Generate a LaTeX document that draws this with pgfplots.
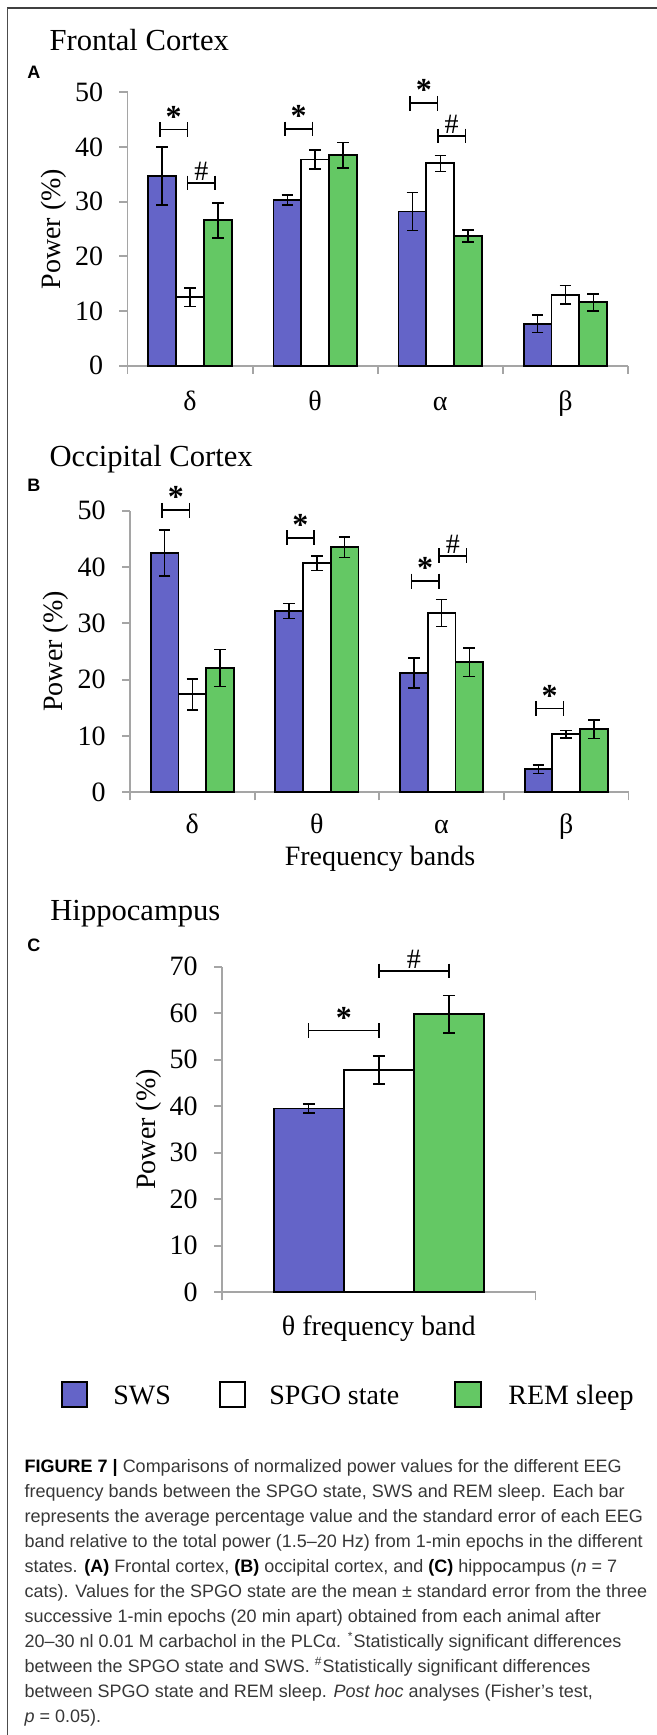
\documentclass[border=0pt]{standalone}
\usepackage{fontspec}
\setmainfont{Liberation Serif}
\newfontfamily\capfont{Liberation Sans}
\usepackage{pgfplots}
\usepackage{pgfplotstable}
\pgfplotsset{compat=1.18}

\definecolor{swsblue}{RGB}{100,100,200}
\definecolor{remgreen}{RGB}{100,200,100}
\definecolor{axgray}{RGB}{165,165,165}
\definecolor{capgray}{RGB}{55,55,55}

% power (%) and standard error per band
\pgfplotstableread{
x sws swse spgo spgoe rem reme
0 34.7 5.3  12.5 1.7  26.6 3.2
1 30.3 0.95 37.7 1.75 38.5 2.35
2 28.2 3.5  37.0 1.45 23.7 1.1
3 7.7  1.6  13.0 1.7  11.6 1.55
}\frontal
\pgfplotstableread{
x sws swse spgo spgoe rem reme
0 42.5 4.1  17.4 2.75 22.1 3.3
1 32.2 1.35 40.65 1.3 43.5 1.8
2 21.2 2.65 31.8 2.4  23.1 2.5
3 4.1  0.75 10.3 0.65 11.2 1.65
}\occipital
\pgfplotstableread{
x sws swse spgo spgoe rem reme
0 39.5 1.0 47.8 3.0 59.8 4.0
}\hippo

\newcommand{\fs}{\fontsize{14}{14}\selectfont}
\newcommand{\st}{{\fontsize{16}{16}\selectfont\bfseries *}}
\newcommand{\hs}{\#}
\newcommand{\sig}[4]{%
  \draw[line width=0.75pt] (axis cs:#1,#3) -- node[above, inner sep=0.8pt, font=\fs]{#4} (axis cs:#2,#3);
  \draw[line width=0.75pt] ([yshift=3.7pt]axis cs:#1,#3) -- ([yshift=-3.7pt]axis cs:#1,#3);
  \draw[line width=0.75pt] ([yshift=3.7pt]axis cs:#2,#3) -- ([yshift=-3.7pt]axis cs:#2,#3);}

\pgfplotsset{
  panel/.style={scale only axis, axis lines=left, axis line style={-, axgray, line width=0.9pt},
    tick style={axgray, line width=0.9pt}, tick align=outside, major tick length=4pt,
    ymin=0, clip=false, x tick label as interval,
    ticklabel style={font=\fs}, /pgf/number format/assume math mode=true,
    yticklabel style={anchor=east, inner sep=0pt, xshift=-8pt},
    xticklabel style={anchor=base, inner sep=0pt},
    ylabel={Power (\%)}, ylabel style={font=\fs, anchor=center}},
  bars/.style={ybar, draw=black, line width=0.9pt},
  errs/.style={draw=none, mark=none,
    error bars/y dir=both, error bars/y explicit,
    error bars/error bar style={draw=black, solid, line width=0.75pt},
    error bars/error mark=|,
    error bars/error mark options={draw=black, solid, line width=0.75pt, mark size=2.9pt}},
}

\begin{document}
\begin{tikzpicture}
\useasboundingbox (0,0) rectangle (328.5pt,-867.5pt);
\draw[black!75, line width=1pt] (328.5pt,-4.15pt) -- (3.6pt,-4.15pt);
\draw[black!70, line width=0.6pt] (3.6pt,-4.15pt) -- (3.6pt,-867.5pt);

% ---- A: frontal cortex
\node[anchor=base west, inner sep=0pt, font=\fontsize{15.3}{15.3}\selectfont] at (24.6pt,-25.3pt) {Frontal Cortex};
\node[anchor=base west, inner sep=0pt, font=\capfont\fontsize{9}{9}\selectfont\bfseries] at (13.5pt,-39pt) {A};
\begin{axis}[panel, at={(63.75pt,-182.85pt)}, anchor=south west, width=250.25pt, height=136.7pt,
  ymax=50, ytick={0,10,...,50}, xmin=-0.5, xmax=3.5, xtick={-0.5,0.5,1.5,2.5,3.5},
  xticklabels={δ,θ,α,β}, xticklabel style={yshift=-18.5pt},
  ylabel style={at={(axis description cs:-0.148,0.5)}}]
\addplot[bars, bar width=0.2224, bar shift=-0.2224, fill=swsblue] table[x=x, y=sws] {\frontal};
\addplot[bars, bar width=0.2224, bar shift=0, fill=white] table[x=x, y=spgo] {\frontal};
\addplot[bars, bar width=0.2224, bar shift=0.2224, fill=remgreen] table[x=x, y=rem] {\frontal};
\addplot[errs] table[x expr=\thisrow{x}-0.2224, y=sws, y error=swse] {\frontal};
\addplot[errs] table[x=x, y=spgo, y error=spgoe] {\frontal};
\addplot[errs] table[x expr=\thisrow{x}+0.2224, y=rem, y error=reme] {\frontal};
\sig{-0.242}{-0.022}{43.2}{\st}
\sig{-0.02}{0.2}{33.4}{\hs}
\sig{0.758}{0.978}{43.3}{\st}
\sig{1.758}{1.978}{48.0}{\st}
\sig{1.98}{2.2}{42.0}{\hs}
\end{axis}

% ---- B: occipital cortex
\node[anchor=base west, inner sep=0pt, font=\fontsize{15.3}{15.3}\selectfont] at (24.6pt,-233.3pt) {Occipital Cortex};
\node[anchor=base west, inner sep=0pt, font=\capfont\fontsize{9}{9}\selectfont\bfseries] at (13.5pt,-245.85pt) {B};
\begin{axis}[panel, at={(65pt,-396.15pt)}, anchor=south west, width=249.25pt, height=140.8pt,
  ymax=50, ytick={0,10,...,50}, xmin=-0.5, xmax=3.5, xtick={-0.5,0.5,1.5,2.5,3.5},
  xticklabels={δ,θ,α,β}, xticklabel style={yshift=-16.5pt},
  ylabel style={at={(axis description cs:-0.148,0.5)}}]
\addplot[bars, bar width=0.2224, bar shift=-0.2224, fill=swsblue] table[x=x, y=sws] {\occipital};
\addplot[bars, bar width=0.2224, bar shift=0, fill=white] table[x=x, y=spgo] {\occipital};
\addplot[bars, bar width=0.2224, bar shift=0.2224, fill=remgreen] table[x=x, y=rem] {\occipital};
\addplot[errs] table[x expr=\thisrow{x}-0.2224, y=sws, y error=swse] {\occipital};
\addplot[errs] table[x=x, y=spgo, y error=spgoe] {\occipital};
\addplot[errs] table[x expr=\thisrow{x}+0.2224, y=rem, y error=reme] {\occipital};
\sig{-0.242}{-0.022}{50.1}{\st}
\sig{0.758}{0.978}{45.2}{\st}
\sig{1.758}{1.978}{37.5}{\st}
\sig{1.98}{2.2}{42.0}{\hs}
\sig{2.758}{2.978}{14.9}{\st}
\end{axis}
\node[anchor=base, inner sep=0pt, font=\fs] at (190pt,-432.5pt) {Frequency bands};

% ---- C: hippocampus
\node[anchor=base west, inner sep=0pt, font=\fontsize{15.3}{15.3}\selectfont] at (25pt,-460pt) {Hippocampus};
\node[anchor=base west, inner sep=0pt, font=\capfont\fontsize{9}{9}\selectfont\bfseries] at (13.5pt,-475.85pt) {C};
\begin{axis}[panel, at={(111pt,-646.15pt)}, anchor=south west, width=156.75pt, height=162.8pt,
  ymax=70, ytick={0,10,...,70}, xmin=-0.5, xmax=0.5, xtick={-0.5,0.5},
  xticklabels={θ frequency band}, xticklabel style={yshift=-17.5pt},
  ylabel style={at={(axis description cs:-0.233,0.5)}}]
\addplot[bars, bar width=0.2233, bar shift=-0.2233, fill=swsblue] table[x=x, y=sws] {\hippo};
\addplot[bars, bar width=0.2233, bar shift=0, fill=white] table[x=x, y=spgo] {\hippo};
\addplot[bars, bar width=0.2233, bar shift=0.2233, fill=remgreen] table[x=x, y=rem] {\hippo};
\addplot[errs] table[x expr=\thisrow{x}-0.2233, y=sws, y error=swse] {\hippo};
\addplot[errs] table[x=x, y=spgo, y error=spgoe] {\hippo};
\addplot[errs] table[x expr=\thisrow{x}+0.2233, y=rem, y error=reme] {\hippo};
\sig{-0.2233}{0}{56.3}{\st}
\sig{0}{0.2233}{69.1}{\hs}
\end{axis}

% ---- legend
\draw[fill=swsblue, line width=0.9pt] (31pt,-690.85pt) rectangle (43.5pt,-703.35pt);
\draw[fill=white, line width=0.9pt] (110pt,-690.85pt) rectangle (122.5pt,-703.35pt);
\draw[fill=remgreen, line width=0.9pt] (227.5pt,-690.85pt) rectangle (240.3pt,-703.35pt);
\node[anchor=base west, inner sep=0pt, font=\fs] at (56.5pt,-702pt) {SWS};
\node[anchor=base west, inner sep=0pt, font=\fs] at (134.5pt,-702pt) {SPGO state};
\node[anchor=base west, inner sep=0pt, font=\fs] at (254pt,-702pt) {REM sleep};

% ---- caption
\begin{scope}[every node/.style={anchor=base west, inner sep=0pt, text=capgray, font=\capfont\fontsize{9}{12.5}\selectfont}]
\node at (12.15pt,-736.35pt) {{\color{black}\bfseries FIGURE 7 |} Comparisons of normalized power values for the different EEG};
\node at (12.15pt,-748.85pt) {frequency bands between the SPGO state, SWS and REM sleep. Each bar};
\node at (12.15pt,-761.35pt) {represents the average percentage value and the standard error of each EEG};
\node at (12.15pt,-773.85pt) {band relative to the total power (1.5–20 Hz) from 1-min epochs in the different};
\node at (12.15pt,-786.35pt) {states. {\color{black}\bfseries (A)} Frontal cortex, {\color{black}\bfseries (B)} occipital cortex, and {\color{black}\bfseries (C)} hippocampus (\textit{n} = 7};
\node at (12.15pt,-798.85pt) {cats). Values for the SPGO state are the mean ± standard error from the three};
\node at (12.15pt,-811.35pt) {successive 1-min epochs (20 min apart) obtained from each animal after};
\node at (12.15pt,-823.85pt) {20–30 nl 0.01 M carbachol in the PLCα. \textsuperscript{*}Statistically significant differences};
\node at (12.15pt,-836.35pt) {between the SPGO state and SWS. \textsuperscript{\#}Statistically significant differences};
\node at (12.15pt,-848.85pt) {between SPGO state and REM sleep. \textit{Post hoc} analyses (Fisher’s test,};
\node at (12.15pt,-861.35pt) {\textit{p} = 0.05).};
\end{scope}
\end{tikzpicture}
\end{document}
